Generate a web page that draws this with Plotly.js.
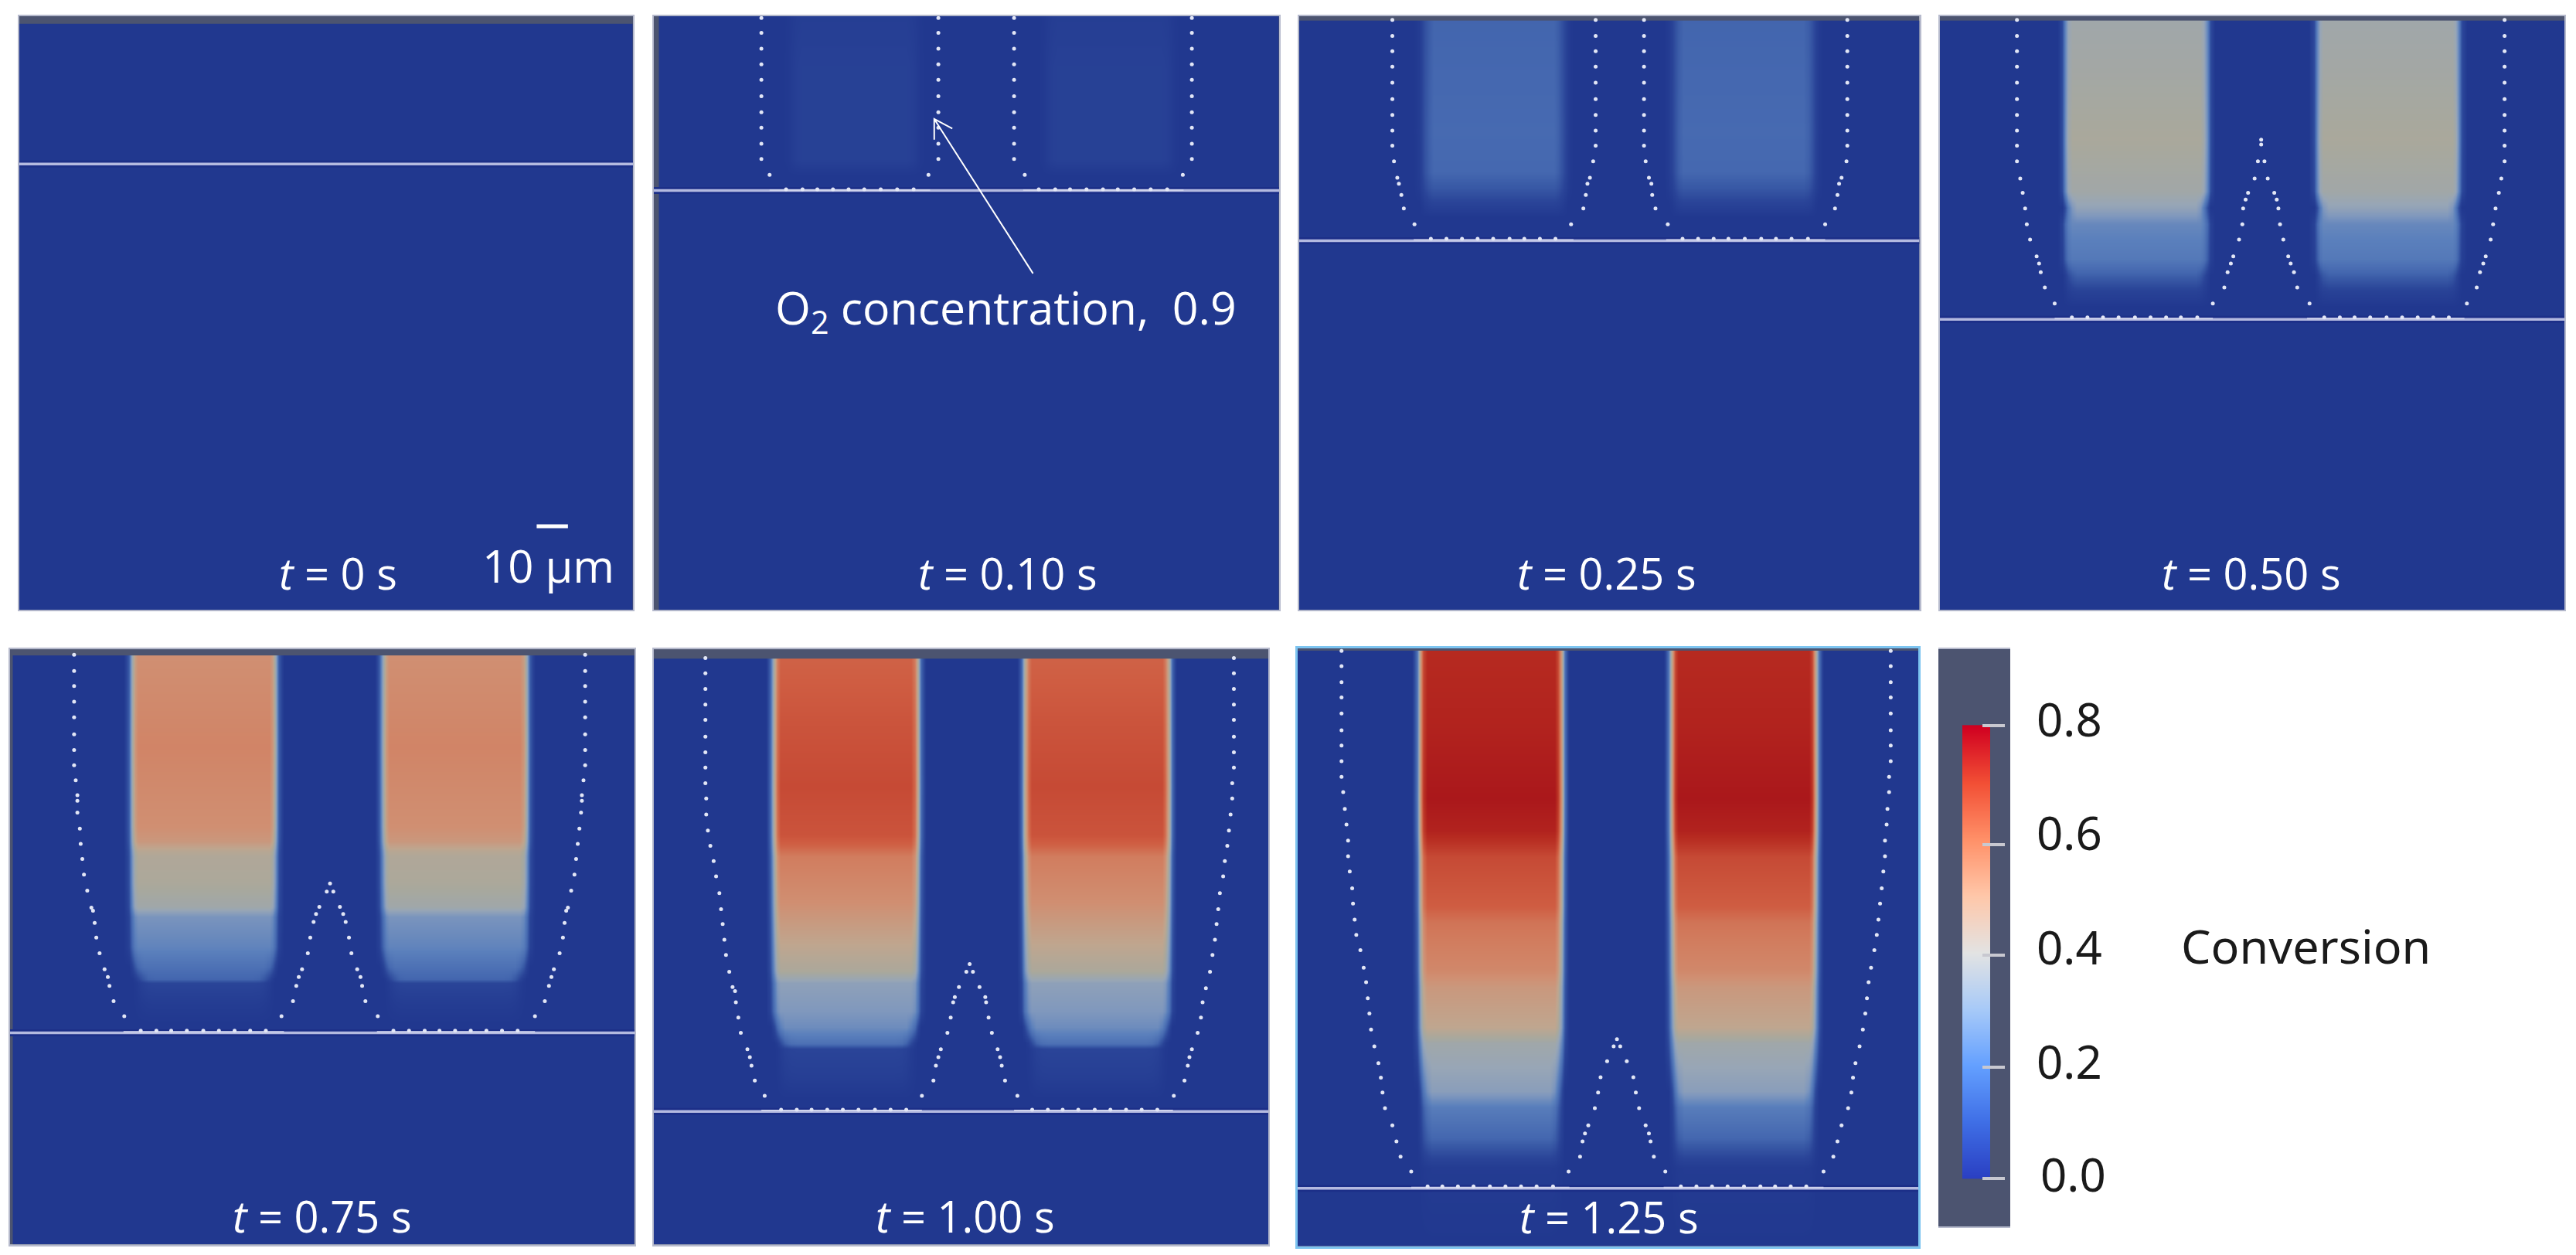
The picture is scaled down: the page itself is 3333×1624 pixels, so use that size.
<!DOCTYPE html>
<html>
<head>
<meta charset="utf-8">
<script src="https://cdn.plot.ly/plotly-3.0.1.min.js"></script>
<style>html,body{margin:0;padding:0;background:#fff}#chart{width:3333px;height:1624px}</style>
</head>
<body>
<div id="chart"></div>
<script>
// ---- captions ----
const captions = ['<i>t</i> = 0 s','<i>t</i> = 0.10 s','<i>t</i> = 0.25 s','<i>t</i> = 0.50 s','<i>t</i> = 0.75 s','<i>t</i> = 1.00 s','<i>t</i> = 1.25 s'];
const captionX = [411,1224,386,1172,392,1173,388];
const captionY = [1435,1435,1435,1435,1470,1470,1472];

// ---- extent of each panel and its field, in picture-reading units ----
const panelXStart = [23,794,10,792,12,794,8];
const fieldXStart = [23,801,10,792,16,794,8];
const fieldXEnd   = [769,1554,767,1554,771,1541,766];
const fieldYTop   = [40,40,40,40,58,58,55];
const fieldYBottom= [1528,1528,1528,1528,1542,1542,1546];
const surfaceY    = [411,477,603,800,1014,1210,1402];

// ---- conversion columns (left, right, left, right) ----
const colsT0   = [];
const colsT010 = [960,1115,1270,1425];
const colsT025 = [160,335,465,640];
const colsT050 = [945,1118,1252,1425];
const colsT075 = [160,335,465,640];
const colsT100 = [940,1115,1245,1420];
const colsT125 = [158,330,465,640];

// ---- conversion along depth ----
const depthT0   = [60,1528];
const convT0    = [0,0];
const shapeT0   = [0,0];
const depthT010 = [40,170,400,440,1528];
const convT010  = [0.024,0.036,0.036,0,0];
const shapeT010 = [3,3,3,2,2];
const depthT025 = [52,200,330,430,470,510,545,1528];
const convT025  = [0.12,0.125,0.13,0.125,0.095,0.045,0,0];
const shapeT025 = [3,3,3,3,3,1,1,1];
const depthT050 = [52,200,350,480,520,560,600,650,690,730,770,1528];
const convT050  = [0.33,0.345,0.365,0.335,0.29,0.21,0.19,0.17,0.11,0.04,0,0];
const shapeT050 = [0,0,0,0,1,0,0,0,1,1,1,1];
const depthT075 = [74,300,500,535,560,575,640,700,725,800,850,880,890,940,990,1542];
const convT075  = [0.5,0.53,0.5,0.47,0.4,0.38,0.37,0.33,0.24,0.2,0.15,0.12,0.05,0.02,0,0];
const shapeT075 = [0,0,0,0,0,0,0,0,0,0,1,2,2,2,2,2];
const depthT100 = [82,250,400,520,545,575,690,740,780,860,890,960,1000,1040,1055,1120,1180,1542];
const convT100  = [0.61,0.64,0.66,0.64,0.61,0.55,0.5,0.46,0.43,0.37,0.28,0.25,0.22,0.15,0.05,0.03,0,0];
const shapeT100 = [0,0,0,0,0,0,0,0,0,0,0,0,1,2,2,2,2,2];
const depthT125 = [62,250,430,510,540,575,700,740,860,900,1000,1040,1160,1200,1280,1320,1350,1546];
const convT125  = [0.74,0.76,0.79,0.76,0.72,0.66,0.62,0.57,0.52,0.47,0.42,0.33,0.27,0.18,0.12,0.06,0.015,0];
const shapeT125 = [0,0,0,0,0,0,0,0,0,0,0,0,1,1,1,1,1,1];

// ---- lateral fall-off at a column's edge ----
const edgeOffsets = [-10,-4,0,4,8,14,20,28,40];
const edgeSharp   = [0,0.2,0.6,0.9,1,1,1,1,1];
const edgeTaperA  = [0,0,0.25,0.6,0.85,1,1,1,1];
const edgeTaperB  = [0,0,0,0.15,0.4,0.75,0.95,1,1];
const edgeSoft    = [0,0.15,0.4,0.65,0.85,1,1,1,1];

// ---- O2 contour dots ----
const o2T010 = [[925,45],[925,82],[925,122],[925,161],[925,200],[925,241],[925,281],[925,320],[925,360],[925,398],
 [1140,45],[1140,82],[1140,122],[1140,161],[1140,200],[1140,241],[1140,281],[1140,320],[1140,360],[1140,398],
 [1232,45],[1232,82],[1232,122],[1232,161],[1232,200],[1232,241],[1232,281],[1232,320],[1232,360],[1232,398],
 [1448,45],[1448,82],[1448,122],[1448,161],[1448,200],[1448,241],[1448,281],[1448,320],[1448,360],[1448,398],
 [935,438],[1128,438],[1245,438],[1437,438],
 [955,474],[975,474],[993,474],[1012,474],[1031,474],[1050,474],[1070,474],[1090,474],[1110,474],
 [1262,474],[1282,474],[1300,474],[1320,474],[1340,474],[1358,474],[1378,474],[1398,474],[1418,474]];
const o2T025 = [[124,50],[124,90],[124,128],[124,167],[124,207],[124,248],[124,288],[124,327],[124,365],[126,404],
 [372,50],[372,90],[372,128],[372,167],[372,207],[372,248],[372,288],[372,327],[372,365],[369,404],
 [431,50],[431,90],[431,128],[431,167],[431,207],[431,248],[431,288],[431,327],[431,365],[433,404],
 [679,50],[679,90],[679,128],[679,167],[679,207],[679,248],[679,288],[679,327],[679,365],[678,404],
 [130,445],[132,460],[135,488],[138,522],[151,562],[365,445],[362,460],[360,488],[357,522],[342,562],
 [437,445],[440,460],[441,488],[445,522],[460,562],[672,445],[669,460],[667,488],[664,522],[652,562],
 [171,598],[190,598],[209,598],[228,598],[247,598],[267,598],[285,598],[304,598],[323,598],
 [478,598],[497,598],[516,598],[534,598],[554,598],[574,598],[592,598],[611,598],[631,598]];
const o2T050 = [[886,50],[886,90],[886,128],[886,167],[886,207],[886,248],[886,288],[886,327],[886,365],[886,404],
 [890,447],[893,483],[896,522],[898,562],[902,600],[910,642],[913,660],[915,682],[920,720],[932,760],
 [1481,50],[1481,90],[1481,128],[1481,167],[1481,207],[1481,248],[1481,288],[1481,327],[1481,365],[1481,404],
 [1477,447],[1474,483],[1470,522],[1467,562],[1464,600],[1458,642],[1455,660],[1451,682],[1447,720],[1435,760],
 [1184,350],[1184,362],[1180,404],[1188,404],[1176,447],[1192,447],[1168,483],[1200,483],[1165,500],[1203,500],
 [1162,522],[1205,522],[1161,562],[1207,562],[1157,600],[1211,600],[1150,642],[1217,642],[1147,660],[1220,660],
 [1143,682],[1224,682],[1139,720],[1228,720],[1125,760],[1243,760],
 [953,795],[972,795],[991,795],[1010,795],[1030,795],[1049,795],[1068,795],[1086,795],[1106,795],
 [1261,795],[1280,795],[1298,795],[1317,795],[1337,795],[1356,795],[1375,795],[1394,795],[1413,795]];
const o2T075 = [[90,72],[90,112],[90,150],[90,189],[90,228],[90,270],[90,309],[90,347],[92,385],[94,422],[94,436],[94,465],
 [97,505],[98,543],[100,581],[102,620],[106,660],[111,702],[113,710],[115,740],[117,777],[121,816],[127,856],[131,875],[133,897],[138,935],[151,973],
 [711,72],[711,112],[711,150],[711,189],[711,228],[711,270],[711,309],[711,347],[709,385],[707,422],[707,436],[706,465],
 [704,505],[702,543],[700,581],[698,620],[694,660],[690,702],[688,710],[686,740],[684,777],[680,816],[673,856],[670,875],[667,897],[662,935],[650,973],
 [401,642],[397,662],[405,662],[388,700],[413,700],[384,718],[417,718],[381,738],[420,738],[377,777],[424,777],[374,816],[427,816],
 [367,856],[434,856],[363,875],[438,875],[360,897],[440,897],[356,935],[444,935],[342,973],[459,973],
 [171,1009],[190,1009],[208,1009],[227,1009],[247,1009],[266,1009],[285,1009],[304,1009],[323,1009],
 [478,1009],[497,1009],[516,1009],[534,1009],[553,1009],[572,1009],[591,1009],[610,1009],[629,1009]];
const o2T100 = [[857,80],[857,118],[857,157],[857,196],[857,234],[857,276],[857,315],[857,353],[857,392],[858,430],[858,470],[860,510],[863,548],[867,586],[870,624],
 [874,666],[876,706],[878,743],[880,782],[882,820],[886,862],[890,900],[893,910],[894,938],[897,976],[900,1014],[908,1055],[911,1075],[913,1096],[917,1133],[929,1171],
 [1499,80],[1499,118],[1499,157],[1499,196],[1499,234],[1499,276],[1499,315],[1499,353],[1497,392],[1497,430],[1495,470],[1493,510],[1491,548],[1488,586],[1486,624],
 [1482,666],[1480,706],[1478,743],[1476,782],[1473,820],[1470,862],[1465,903],[1461,938],[1459,976],[1455,1014],[1448,1055],[1445,1075],[1443,1096],[1439,1133],[1426,1171],
 [1178,843],[1174,862],[1182,862],[1165,900],[1190,900],[1160,925],[1158,938],[1197,925],[1198,938],[1155,976],[1201,976],[1151,1014],[1205,1014],
 [1143,1055],[1212,1055],[1140,1075],[1215,1075],[1137,1096],[1217,1096],[1134,1133],[1221,1133],[1120,1171],[1236,1171],
 [949,1206],[968,1206],[986,1206],[1005,1206],[1024,1206],[1043,1206],[1063,1206],[1082,1206],[1101,1206],
 [1254,1206],[1273,1206],[1291,1206],[1310,1206],[1330,1206],[1349,1206],[1368,1206],[1387,1206],[1406,1206]];
const o2T125 = [[62,62],[62,100],[62,140],[62,178],[62,218],[62,260],[62,298],[62,337],[62,376],[64,414],[66,456],[68,495],[70,535],[70,574],[72,612],[75,654],[76,692],[78,732],[80,770],[85,808],
 [89,852],[92,888],[94,928],[96,966],[98,1006],[102,1048],[107,1090],[110,1126],[112,1163],[115,1202],[124,1245],[129,1285],[134,1323],[147,1360],
 [732,62],[732,100],[732,140],[732,178],[732,218],[732,260],[732,298],[732,337],[730,376],[730,414],[728,456],[727,495],[725,535],[725,574],[723,612],[721,654],[719,692],[717,732],[715,770],[712,808],
 [708,852],[705,888],[703,928],[701,966],[698,1006],[694,1048],[689,1090],[686,1126],[684,1163],[680,1202],[672,1245],[667,1285],[662,1323],[650,1360],
 [398,1030],[394,1048],[402,1048],[386,1085],[410,1085],[378,1125],[418,1125],[375,1163],[421,1163],[371,1202],[425,1202],[363,1245],[433,1245],[359,1265],[437,1265],[356,1285],[439,1285],[353,1323],[443,1323],[339,1360],[457,1360],
 [167,1397],[185,1397],[204,1397],[223,1397],[243,1397],[262,1397],[281,1397],[300,1397],[320,1397],
 [476,1397],[495,1397],[514,1397],[533,1397],[553,1397],[573,1397],[591,1397],[610,1397],[629,1397]];

// ---- raised bit of the surface under each column ----
const humpX = [[],[935,1130,null,1243,1438],[150,345,null,458,652],[932,1125,null,1240,1432],[150,345,null,458,650],[925,1120,null,1232,1425],[147,340,null,455,650]];
const humpY = [null,476,601,798,1012,1208,1400];

// ---- field colours, per conversion value ----
const fieldStops  = [0,0.05,0.1,0.125,0.19,0.25,0.3,0.36,0.42,0.5,0.55,0.62,0.66,0.74,0.8];
const fieldColors = ['#21388f','#2a4498','#3a5ba7','#4568b0','#5b80bc','#8098bd','#98a6b6','#a8a89d','#bfa68f','#d08f72','#d17d5f','#cf5d42','#c64a35','#b62a20','#a8141a'];

// ---- colour bar ----
const barValues  = [0,0.001,0.1,0.2,0.3,0.4,0.5,0.6,0.7,0.799,0.8];
const barStops   = [0,0.1,0.2,0.3,0.4,0.5,0.6,0.7,0.8];
const barColors  = ['#2a3fc2','#3f6fe6','#64a0ff','#a8caf8','#e3e3e3','#ffc7a9','#ff9068','#f24f35','#d00020'];
const barTickPos = [0,0.196,0.395,0.589,0.8];
const barLabels  = ['0.0','0.2','0.4','0.6','0.8'];
const barLabelPx = [[2682,1519],[2677,1373],[2677,1225],[2677,1077],[2677,930]];

// ---- arrow of the O2 note ----
const arrowX = [1255,1135,1135,1135,1157];
const arrowY = [685,298,350,298,322];

// ---- page geometry (pixels of the picture) ----
const W = 3333, H = 1624;
const panelPx = [[24.5,819,20.7,789.4],[845.6,1655,20.7,789.4],[1680.6,2483.5,20.7,789.4],[2510,3318,20.7,789.4],
                 [12.8,821,840.1,1610.5],[845.6,1641.2,840.1,1610.5],[1678.5,2482.4,838.6,1612.5]];
const barPanelPx = [2508,2601,840,1587];
const STRIP = '#4c5470';
const EDGE = 'rgba(175,180,200,0.9)';
const DOT = '#e2e6f6';

const shapes = [edgeSharp,edgeTaperA,edgeTaperB,edgeSoft];
const cols   = [colsT0,colsT010,colsT025,colsT050,colsT075,colsT100,colsT125];
const depth  = [depthT0,depthT010,depthT025,depthT050,depthT075,depthT100,depthT125];
const conv   = [convT0,convT010,convT025,convT050,convT075,convT100,convT125];
const rowKind= [shapeT0,shapeT010,shapeT025,shapeT050,shapeT075,shapeT100,shapeT125];
const o2     = [[],o2T010,o2T025,o2T050,o2T075,o2T100,o2T125];

const fieldScale = fieldStops.map((s,i)=>[s/0.8,fieldColors[i]]);
const barScale = barStops.map((s,i)=>[s/0.8,barColors[i]]);

function buildField(p){
  const c = cols[p];
  // the first knot is doubled so that the field starts exactly at its edge
  const xs = [fieldXStart[p],fieldXStart[p]+1];
  const tag = [null,null];
  for(let k=0;k<c.length;k+=2){
    const L=c[k],R=c[k+1];
    edgeOffsets.forEach((o,i)=>{xs.push(L+o);tag.push(i);});
    edgeOffsets.slice().reverse().forEach((o,j)=>{xs.push(R-o);tag.push(edgeOffsets.length-1-j);});
  }
  xs.push(fieldXEnd[p]);tag.push(null);
  const row = r=>tag.map(t=>t===null?0:conv[p][r]*shapes[rowKind[p][r]][t]);
  const ys = [depth[p][0]].concat([depth[p][0]+1],depth[p].slice(1));
  const z = [row(0),row(0)].concat(depth[p].slice(1).map((d,i)=>row(i+1)));
  return {x:xs,y:ys,z};
}

const traces = [], annotations = [], layout = {
  width:W,height:H,margin:{l:0,r:0,t:0,b:0},paper_bgcolor:'#ffffff',plot_bgcolor:STRIP,showlegend:false,
  annotations,font:{family:'"Noto Sans", sans-serif'}
};
const dom = (a,b,S)=>[a/S,b/S];
const domY = (t,b)=>[1-b/H,1-t/H];

panelPx.forEach((px,p)=>{
  const n = p+1, sfx = n===1?'':String(n);
  const border = p===6?{linecolor:'#7cc4f0',linewidth:3}:{linecolor:EDGE,linewidth:2};
  layout['xaxis'+sfx] = Object.assign({domain:dom(px[0],px[1],W),range:[panelXStart[p],fieldXEnd[p]],anchor:'y'+sfx,
    showgrid:false,zeroline:false,showticklabels:false,ticks:'',showline:true,mirror:true,fixedrange:true},border);
  layout['yaxis'+sfx] = Object.assign({domain:domY(px[2],px[3]),range:[fieldYBottom[p],fieldYTop[p]],anchor:'x'+sfx,
    showgrid:false,zeroline:false,showticklabels:false,ticks:'',showline:true,mirror:true,fixedrange:true},border);
  const f = buildField(p);
  traces.push({type:'heatmap',x:f.x,y:f.y,z:f.z,xaxis:'x'+sfx,yaxis:'y'+sfx,zmin:0,zmax:0.8,zsmooth:'best',
    colorscale:fieldScale,showscale:false,hoverinfo:'skip'});
  const sx=[panelXStart[p],fieldXEnd[p]], sy=[surfaceY[p],surfaceY[p]];
  traces.push({type:'scatter',mode:'lines',x:sx,y:sy,xaxis:'x'+sfx,yaxis:'y'+sfx,line:{color:'#1c2f88',width:9},hoverinfo:'skip'});
  traces.push({type:'scatter',mode:'lines',x:sx,y:sy,xaxis:'x'+sfx,yaxis:'y'+sfx,line:{color:'#b4bae0',width:3.5},hoverinfo:'skip'});
  if(humpX[p].length){
    traces.push({type:'scatter',mode:'lines',x:humpX[p],y:humpX[p].map(v=>v===null?null:humpY[p]),xaxis:'x'+sfx,yaxis:'y'+sfx,line:{color:'#cfd3ec',width:2},hoverinfo:'skip'});
  }
  if(o2[p].length){
    traces.push({type:'scatter',mode:'markers',x:o2[p].map(d=>d[0]),y:o2[p].map(d=>d[1]),xaxis:'x'+sfx,yaxis:'y'+sfx,
      marker:{symbol:'circle',size:5,color:DOT},hoverinfo:'skip'});
  }
  annotations.push({text:captions[p],x:captionX[p],y:captionY[p],xref:'x'+sfx,yref:'y'+sfx,showarrow:false,xanchor:'center',yanchor:'middle',
    font:{size:56,color:'#ffffff',family:'"Open Sans", sans-serif'}});
});

// scale bar and O2 note
traces.push({type:'scatter',mode:'lines',x:[652,690],y:[1318,1318],xaxis:'x',yaxis:'y',line:{color:'#ffffff',width:5},hoverinfo:'skip'});
annotations.push({text:'10 µm',x:666,y:1415,xref:'x',yref:'y',showarrow:false,xanchor:'center',yanchor:'middle',font:{size:58,color:'#ffffff',family:'"Open Sans", sans-serif'}});
traces.push({type:'scatter',mode:'lines',x:arrowX,y:arrowY,xaxis:'x2',yaxis:'y2',line:{color:'#ffffff',width:2},hoverinfo:'skip'});
annotations.push({text:'O<sub>2</sub> concentration,  0.9',x:1222,y:775,xref:'x2',yref:'y2',showarrow:false,xanchor:'center',yanchor:'middle',font:{size:59,color:'#ffffff',family:'"Open Sans", sans-serif'}});

// colour bar panel
layout.xaxis8 = {domain:dom(barPanelPx[0],barPanelPx[1],W),range:[0,93],anchor:'y8',showgrid:false,zeroline:false,showticklabels:false,ticks:'',showline:true,mirror:true,linecolor:EDGE,linewidth:2,fixedrange:true};
layout.yaxis8 = {domain:domY(barPanelPx[2],barPanelPx[3]),range:[-0.0846,0.9347],anchor:'free',position:2594/W,side:'right',showgrid:false,zeroline:false,showticklabels:false,
  tickmode:'array',tickvals:barTickPos,ticks:'inside',ticklen:29,tickwidth:4,tickcolor:'#c8c8d0',showline:false,fixedrange:true};
traces.push({type:'heatmap',x:[40,58],y:barValues,z:barValues.map(v=>[v,v]),xaxis:'x8',yaxis:'y8',zmin:0,zmax:0.8,zsmooth:'best',colorscale:barScale,showscale:false,hoverinfo:'skip'});
barLabels.forEach((t,i)=>annotations.push({text:t,x:barLabelPx[i][0]/W,y:1-barLabelPx[i][1]/H,xref:'paper',yref:'paper',showarrow:false,xanchor:'center',yanchor:'middle',font:{size:60,color:'#1a1a1a'}}));
annotations.push({text:'Conversion',x:2983/W,y:1-1223/H,xref:'paper',yref:'paper',showarrow:false,xanchor:'center',yanchor:'middle',font:{size:61,color:'#1a1a1a'}});

Plotly.newPlot('chart',traces,layout,{staticPlot:true,displayModeBar:false});
</script>
</body>
</html>
